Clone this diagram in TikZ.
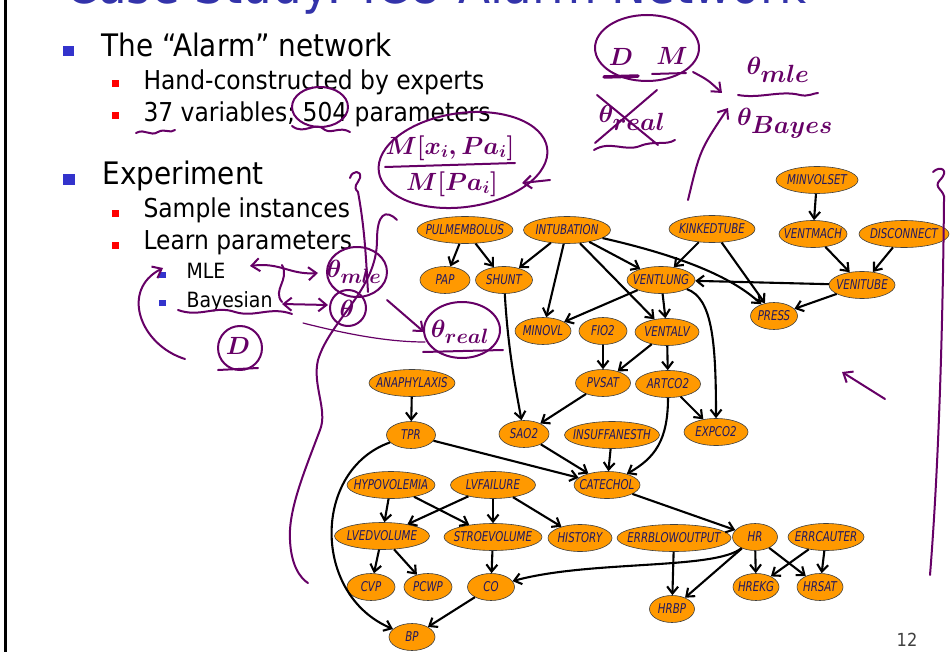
\documentclass[tikz,border=0pt]{standalone}
\usepackage{fontspec}
\usepackage{amsmath}
\usetikzlibrary{shapes.geometric,arrows.meta}
\newfontfamily\slidefont{DejaVu Sans}[FakeStretch=0.9]
\newfontfamily\netfont{DejaVu Sans}[FakeStretch=0.76]
\definecolor{netorange}{RGB}{255,153,0}
\definecolor{netlabel}{RGB}{34,24,96}
\definecolor{slideblue}{RGB}{51,51,204}
\definecolor{titleblue}{RGB}{51,51,170}
\definecolor{inkpurple}{RGB}{102,0,102}
\newcommand{\bn}[5]{\node[bnode, minimum width=#4] (#1) at (#2,#3) {\makebox[0pt]{#5}};}
\newcommand{\bigtext}{\slidefont\fontsize{31}{33}\selectfont}
\newcommand{\midtext}{\slidefont\fontsize{26}{28}\selectfont}
\newcommand{\smalltext}{\slidefont\fontsize{21}{23}\selectfont}
\newcommand{\handsize}[1]{\fontsize{#1}{#1}\selectfont\boldmath}

\begin{document}
\begin{tikzpicture}[x=1pt, y=-1pt,
    bnode/.style={ellipse, draw=black!75, line width=0.6pt, fill=netorange,
      minimum height=27pt, inner sep=0pt, text=netlabel,
      font=\netfont\itshape\fontsize{13.5}{14}\selectfont},
    edge/.style={line width=2.1pt, -{Straight Barb[length=7pt,width=11pt]}},
    ink/.style={draw=inkpurple, line width=2pt, line cap=round, line join=round},
    inkarrow/.style={ink, -{Straight Barb[length=8pt,width=13pt]}},
    hand/.style={text=inkpurple, inner sep=0pt}]
  \clip (0,0) rectangle (952,652);
  \fill[white] (0,0) rectangle (952,652);
  \draw[line width=2.5pt] (5.5,0) -- (5.5,652);

  % slide text
  \node[anchor=base west, text=titleblue, font=\slidefont\fontsize{52}{54}\selectfont] (title) at (62,4) {Case Study: ICU-Alarm Network};
  \fill[slideblue] (63,46) rectangle (74,56);
  \node[anchor=base west, font=\bigtext] (alarm) at (98,57) {The “Alarm” network};
  \fill[red] (112,80) rectangle (119,87);
  \node[anchor=base west, font=\midtext] (hand) at (140,90) {Hand-constructed by experts};
  \fill[red] (112,112) rectangle (119,119);
  \node[anchor=base west, font=\midtext] (vars) at (140,122) {37 variables; 504 parameters};
  \fill[slideblue] (63,174) rectangle (75,185);
  \node[anchor=base west, font=\bigtext] (exper) at (99,185) {Experiment};
  \fill[red] (112,210) rectangle (119,217);
  \node[anchor=base west, font=\midtext] (sample) at (140,218) {Sample instances};
  \fill[red] (112,242) rectangle (119,249);
  \node[anchor=base west, font=\midtext] (learn) at (140,250) {Learn parameters};
  \fill[slideblue] (159,272) rectangle (166,278);
  \node[anchor=base west, font=\smalltext] (mle) at (183,278) {MLE};
  \fill[slideblue] (159,300) rectangle (166,306);
  \node[anchor=base west, font=\smalltext] (bayes) at (183,307) {Bayesian};
  \node[text=black!75, font=\slidefont\fontsize{18}{18}\selectfont] (page) at (907,640) {12};

  % network
  \bn{minvolset}{817}{180}{82}{MINVOLSET}
  \bn{pulmembolus}{465}{230}{96}{PULMEMBOLUS}
  \bn{intubation}{567}{230}{87}{INTUBATION}
  \bn{kinkedtube}{712}{229}{86}{KINKEDTUBE}
  \bn{ventmach}{813}{234}{68}{VENTMACH}
  \bn{disconnect}{904}{234}{90}{DISCONNECT}
  \bn{pap}{445}{280}{50}{PAP}
  \bn{shunt}{504}{280}{57}{SHUNT}
  \bn{ventlung}{661}{280}{68}{VENTLUNG}
  \bn{venitube}{862}{285}{66}{VENITUBE}
  \bn{press}{774}{316}{47}{PRESS}
  \bn{minovl}{543}{331}{56}{MINOVL}
  \bn{fio2}{603}{331}{48}{FIO2}
  \bn{ventalv}{667}{332}{64}{VENTALV}
  \bn{anaphylaxis}{412}{383}{86}{ANAPHYLAXIS}
  \bn{pvsat}{603}{383}{55}{PVSAT}
  \bn{artco2}{668}{384}{65}{ARTCO2}
  \bn{tpr}{411}{435}{49}{TPR}
  \bn{sao2}{524}{434}{50}{SAO2}
  \bn{insuffanesth}{612}{435}{95}{INSUFFANESTH}
  \bn{expco2}{716}{432}{64}{EXPCO2}
  \bn{hypovolemia}{391}{485}{88}{HYPOVOLEMIA}
  \bn{lvfailure}{493}{485}{85}{LVFAILURE}
  \bn{catechol}{607}{485}{66}{CATECHOL}
  \bn{lvedvolume}{382}{536}{95}{LVEDVOLUME}
  \bn{stroevolume}{493}{537}{98}{STROEVOLUME}
  \bn{history}{580}{538}{64}{HISTORY}
  \bn{errblowoutput}{674}{538}{114}{ERRBLOWOUTPUT}
  \bn{hr}{755}{537}{45}{HR}
  \bn{errcauter}{826}{537}{76}{ERRCAUTER}
  \bn{cvp}{371}{587}{48}{CVP}
  \bn{pcwp}{428}{587}{48}{PCWP}
  \bn{co}{491}{587}{47}{CO}
  \bn{hrekg}{756}{587}{46}{HREKG}
  \bn{hrsat}{820}{587}{46}{HRSAT}
  \bn{hrbp}{672}{609}{45}{HRBP}
  \bn{bp}{412}{637}{46}{BP}

  \draw[edge] (pulmembolus) -- (pap);
  \draw[edge] (pulmembolus) -- (shunt);
  \draw[edge] (intubation) -- (shunt);
  \draw[edge] (intubation) -- (minovl);
  \draw[edge] (intubation) -- (ventalv);
  \draw[edge] (intubation) -- (ventlung);
  \draw[edge] (intubation) .. controls (690,258) and (735,280) .. (press);
  \draw[edge] (kinkedtube) -- (ventlung);
  \draw[edge] (kinkedtube) -- (press);
  \draw[edge] (minvolset) -- (ventmach);
  \draw[edge] (ventmach) -- (venitube);
  \draw[edge] (disconnect) -- (venitube);
  \draw[edge] (venitube) -- (ventlung);
  \draw[edge] (venitube) -- (press);
  \draw[edge] (ventlung) -- (minovl);
  \draw[edge] (ventlung) -- (ventalv);
  \draw[edge] (ventlung) .. controls (712,298) and (716,340) .. (expco2);
  \draw[edge] (shunt) .. controls (508,350) and (516,390) .. (sao2);
  \draw[edge] (fio2) -- (pvsat);
  \draw[edge] (ventalv) -- (pvsat);
  \draw[edge] (ventalv) -- (artco2);
  \draw[edge] (pvsat) -- (sao2);
  \draw[edge] (artco2) -- (expco2);
  \draw[edge] (artco2) .. controls (668,440) and (655,458) .. (catechol);
  \draw[edge] (anaphylaxis) -- (tpr);
  \draw[edge] (tpr) -- (catechol);
  \draw[edge] (sao2) -- (catechol);
  \draw[edge] (insuffanesth) -- (catechol);
  \draw[edge] (tpr) .. controls (312,470) and (312,595) .. (bp);
  \draw[edge] (hypovolemia) -- (lvedvolume);
  \draw[edge] (hypovolemia) -- (stroevolume);
  \draw[edge] (lvfailure) -- (lvedvolume);
  \draw[edge] (lvfailure) -- (stroevolume);
  \draw[edge] (lvfailure) -- (history);
  \draw[edge] (lvedvolume) -- (cvp);
  \draw[edge] (lvedvolume) -- (pcwp);
  \draw[edge] (stroevolume) -- (co);
  \draw[edge] (catechol) -- (hr);
  \draw[edge] (hr) .. controls (715,570) and (590,560) .. (co);
  \draw[edge] (hr) -- (hrbp);
  \draw[edge] (hr) -- (hrekg);
  \draw[edge] (hr) -- (hrsat);
  \draw[edge] (errblowoutput) -- (hrbp);
  \draw[edge] (errcauter) -- (hrekg);
  \draw[edge] (errcauter) -- (hrsat);
  \draw[edge] (co) -- (bp);

  % pen notes
  \draw[ink] (320,107) ellipse (28 and 20);
  \draw[ink] (292,126) .. controls (305,136) and (315,120) .. (325,130) .. controls (332,134) and (340,126) .. (350,132);
  \draw[ink] (136,133) .. controls (145,128) and (150,137) .. (158,132) .. controls (165,128) and (170,134) .. (175,130);
  \draw[ink, rotate around={8:(463,160)}] (463,160) ellipse (85 and 47);
  \node[hand, font=\handsize{26}] (mxp) at (450,148) {$M[x_i,Pa_i]$};
  \node[hand, font=\handsize{26}] (mp) at (452,184) {$M[Pa_i]$};
  \draw[ink] (385,167) -- (515,163);
  \draw[inkarrow] (550,180) -- (522,183);
  \draw[ink] (647,48) ellipse (52 and 33);
  \node[hand, font=\handsize{32}] (dset) at (621,57) {$D$};
  \node[hand, font=\handsize{32}] (mset) at (672,56) {$M$};
  \draw[ink, line width=3.5pt] (604,77) -- (638,76);
  \draw[ink] (652,74) -- (686,73);
  \draw[inkarrow] (693,72) .. controls (708,80) .. (722,93);
  \node[hand, font=\handsize{40}] (thmle) at (778,70) {$\theta_{mle}$};
  \draw[ink] (738,95) .. controls (760,99) and (780,90) .. (800,95) .. controls (808,97) and (814,93) .. (818,93);
  \node[hand, font=\handsize{40}] (thbayes) at (785,123) {$\theta_{Bayes}$};
  \node[hand, font=\handsize{36}] (threal) at (632,118) {$\theta_{real}$};
  \draw[ink] (597,95) -- (658,145);
  \draw[ink] (657,90) -- (595,143);
  \draw[ink] (594,150) .. controls (610,140) and (625,152) .. (640,146) .. controls (655,140) and (665,146) .. (675,140);
  \draw[inkarrow] (688,200) .. controls (700,150) .. (728,108);
  \draw[ink] (933,172) .. controls (940,165) and (950,170) .. (940,180) .. controls (932,188) and (946,190) .. (944,200) .. controls (943,300) and (940,450) .. (930,575);
  \draw[inkarrow] (885,399) -- (842,372);
  \draw[ink] (357,272) ellipse (30 and 25);
  \node[hand, font=\handsize{30}] (thl) at (354,272) {$\theta_{mle}$};
  \draw[ink] (348,308) circle (18);
  \node[hand, font=\handsize{28}] (thb) at (347,309) {$\theta$};
  \draw[ink, {Straight Barb[length=8pt,width=13pt]}-{Straight Barb[length=8pt,width=13pt]}] (250,266) .. controls (280,262) and (290,275) .. (318,273);
  \draw[ink, {Straight Barb[length=8pt,width=13pt]}-{Straight Barb[length=8pt,width=13pt]}] (282,304) -- (328,305);
  \draw[ink] (282,265) .. controls (290,280) and (272,290) .. (282,302);
  \draw[ink] (178,310) .. controls (200,318) and (215,305) .. (235,312) .. controls (255,318) and (270,306) .. (292,314);
  \draw[ink] (462,330) ellipse (38 and 28);
  \node[hand, font=\handsize{32}] (thr) at (460,332) {$\theta_{real}$};
  \draw[ink] (423,352) -- (503,350);
  \draw[inkarrow] (387,300) -- (424,332);
  \draw[ink, line width=1.2pt] (303,323) .. controls (350,335) and (390,342) .. (425,342);
  \draw[ink] (240,348) circle (22);
  \node[hand, font=\handsize{30}] (dl) at (238,346) {$D$};
  \draw[ink] (218,370) -- (258,368);
  \draw[inkarrow] (185,359) .. controls (140,345) and (120,290) .. (163,268);
  \draw[ink] (350,178) .. controls (352,170) and (362,170) .. (360,178) .. controls (358,184) and (352,186) .. (358,192) .. controls (365,230) and (366,260) .. (368,292);
  \draw[ink] (397,220) .. controls (385,208) and (377,215) .. (377,240) .. controls (377,290) and (330,320) .. (318,360) .. controls (312,385) and (328,410) .. (320,430) .. controls (305,470) and (288,510) .. (290,540) .. controls (291,565) and (300,578) .. (308,583);
\end{tikzpicture}
\end{document}
